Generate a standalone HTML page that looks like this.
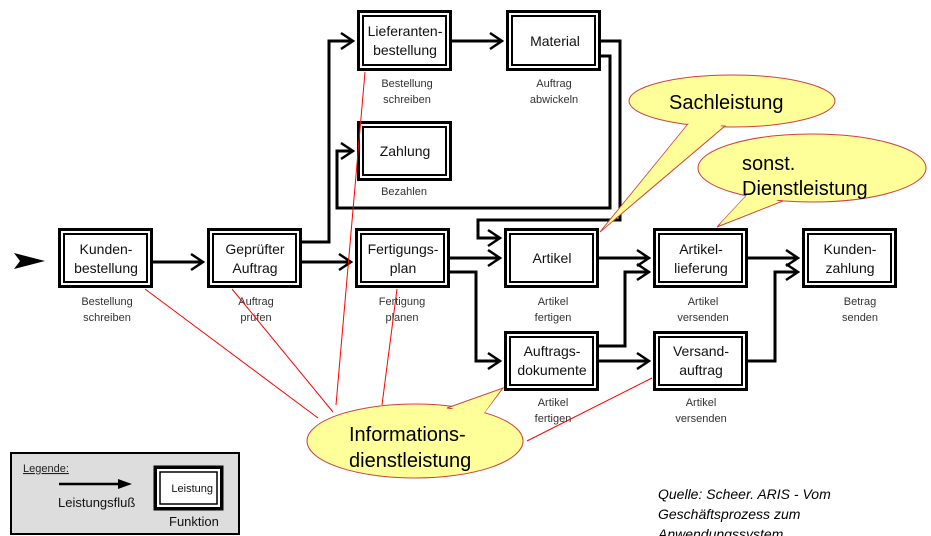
<!DOCTYPE html>
<html><head><meta charset="utf-8"><style>
html,body{margin:0;padding:0;background:#fff;width:931px;height:536px;overflow:hidden}
svg{display:block;font-family:"Liberation Sans",Arial,sans-serif}
</style></head><body>
<svg width="931" height="536" viewBox="0 0 931 536" xmlns="http://www.w3.org/2000/svg">
<defs>
<marker id="a" viewBox="0 0 10 10" refX="9" refY="5" markerWidth="5" markerHeight="5" orient="auto" markerUnits="userSpaceOnUse">
</marker>
</defs>
<g id="boxes" fill="none" stroke="#000">
</g>
<!-- connectors -->
<g fill="none" stroke="#000" stroke-width="3">
<polyline points="153,262 203,262"/>
<polyline points="302,242 329,242 329,41 353,41"/>
<polyline points="302,262 351,262"/>
<polyline points="452,41 502,41"/>
<polyline points="601,41 620,41 620,220 478,220 478,238 500,238"/>
<polyline points="601,56 610,56 610,208 337,208 337,151 353,151"/>
<polyline points="450,258 500,258"/>
<polyline points="450,272 476,272 476,361 500,361"/>
<polyline points="599,258 649,258"/>
<polyline points="599,346 625,346 625,272 649,272"/>
<polyline points="599,361 649,361"/>
<polyline points="748,258 798,258"/>
<polyline points="748,361 775,361 775,272 798,272"/>
</g>
<g fill="none" stroke="#000" stroke-width="2.5">
<polyline points="191,254 203,262 191,270"/>
<polyline points="339,254 351,262 339,270"/>
<polyline points="341,33 353,41 341,49"/>
<polyline points="490,33 502,41 490,49"/>
<polyline points="341,143 353,151 341,159"/>
<polyline points="488,230 500,238 488,246"/>
<polyline points="488,250 500,258 488,266"/>
<polyline points="488,353 500,361 488,369"/>
<polyline points="637,250 649,258 637,266"/>
<polyline points="637,264 649,272 637,280"/>
<polyline points="637,353 649,361 637,369"/>
<polyline points="786,250 798,258 786,266"/>
<polyline points="786,264 798,272 786,280"/>
</g>
<polygon points="14,253 45,261 14,269 20,261" fill="#000"/>
<!-- function boxes -->
<g fill="#fff" stroke="#000">
<g transform="translate(58,228)"><rect x="1.5" y="1.5" width="92" height="57" stroke-width="3"/><rect x="6" y="6" width="83" height="48" stroke-width="2"/></g>
<g transform="translate(207,228)"><rect x="1.5" y="1.5" width="92" height="57" stroke-width="3"/><rect x="6" y="6" width="83" height="48" stroke-width="2"/></g>
<g transform="translate(355,228)"><rect x="1.5" y="1.5" width="92" height="57" stroke-width="3"/><rect x="6" y="6" width="83" height="48" stroke-width="2"/></g>
<g transform="translate(357,10)"><rect x="1.5" y="1.5" width="92" height="58" stroke-width="3"/><rect x="6" y="6" width="83" height="49" stroke-width="2"/></g>
<g transform="translate(506,10)"><rect x="1.5" y="1.5" width="92" height="58" stroke-width="3"/><rect x="6" y="6" width="83" height="49" stroke-width="2"/></g>
<g transform="translate(357,121)"><rect x="1.5" y="1.5" width="92" height="57" stroke-width="3"/><rect x="6" y="6" width="83" height="48" stroke-width="2"/></g>
<g transform="translate(504,228)"><rect x="1.5" y="1.5" width="92" height="57" stroke-width="3"/><rect x="6" y="6" width="83" height="48" stroke-width="2"/></g>
<g transform="translate(653,228)"><rect x="1.5" y="1.5" width="92" height="57" stroke-width="3"/><rect x="6" y="6" width="83" height="48" stroke-width="2"/></g>
<g transform="translate(802,228)"><rect x="1.5" y="1.5" width="92" height="57" stroke-width="3"/><rect x="6" y="6" width="83" height="48" stroke-width="2"/></g>
<g transform="translate(504,331)"><rect x="1.5" y="1.5" width="92" height="57" stroke-width="3"/><rect x="6" y="6" width="83" height="48" stroke-width="2"/></g>
<g transform="translate(653,331)"><rect x="1.5" y="1.5" width="92" height="57" stroke-width="3"/><rect x="6" y="6" width="83" height="48" stroke-width="2"/></g>
</g>
<g font-size="14" text-anchor="middle" fill="#111">
<text x="106" y="254">Kunden-</text><text x="106" y="273">bestellung</text>
<text x="255" y="254">Geprüfter</text><text x="255" y="273">Auftrag</text>
<text x="403" y="254">Fertigungs-</text><text x="403" y="273">plan</text>
<text x="405" y="36">Lieferanten-</text><text x="405" y="55">bestellung</text>
<text x="555" y="46">Material</text>
<text x="405" y="156">Zahlung</text>
<text x="552" y="263">Artikel</text>
<text x="701" y="254">Artikel-</text><text x="701" y="273">lieferung</text>
<text x="850" y="254">Kunden-</text><text x="850" y="273">zahlung</text>
<text x="552" y="356">Auftrags-</text><text x="552" y="375">dokumente</text>
<text x="701" y="356">Versand-</text><text x="701" y="375">auftrag</text>
</g>
<g font-size="11" text-anchor="middle" fill="#333">
<text x="107" y="305">Bestellung</text><text x="107" y="321">schreiben</text>
<text x="256" y="305">Auftrag</text><text x="256" y="321">prüfen</text>
<text x="402" y="305">Fertigung</text><text x="402" y="321">planen</text>
<text x="407" y="87">Bestellung</text><text x="407" y="103">schreiben</text>
<text x="554" y="87">Auftrag</text><text x="554" y="103">abwickeln</text>
<text x="404" y="195">Bezahlen</text>
<text x="553" y="305">Artikel</text><text x="553" y="321">fertigen</text>
<text x="703" y="305">Artikel</text><text x="703" y="321">versenden</text>
<text x="860" y="305">Betrag</text><text x="860" y="321">senden</text>
<text x="553" y="406">Artikel</text><text x="553" y="422">fertigen</text>
<text x="701" y="406">Artikel</text><text x="701" y="422">versenden</text>
</g>
<!-- red lines -->
<g stroke="#f00" stroke-width="1" fill="none">
<line x1="145" y1="289" x2="318" y2="418"/>
<line x1="232" y1="289" x2="333" y2="412"/>
<line x1="365" y1="72" x2="336" y2="405"/>
<line x1="397" y1="289" x2="382" y2="405"/>
<line x1="527" y1="441" x2="652" y2="378"/>
</g>
<!-- callouts -->
<g fill="#ffff99" stroke="#d04040" stroke-width="1">
<ellipse cx="732" cy="101" rx="103" ry="26"/>
<polygon points="688,124 600,232 725,126"/>
<ellipse cx="812" cy="168" rx="114" ry="34"/>
<polygon points="746,196 717,227 783,201"/>
<ellipse cx="415" cy="441" rx="108" ry="37"/>
<polygon points="447,408 503,388 484,413"/>
</g>
<g fill="#ffff99" stroke="none">
<polygon points="690,122 603,229 723,124"/>
<polygon points="748,194 720,224 780,199"/>
<polygon points="449,410 500,391 482,416"/>
</g>
<g font-size="20" fill="#000">
<text x="669" y="109">Sachleistung</text>
<text x="742" y="170">sonst.</text>
<text x="742" y="195">Dienstleistung</text>
<text x="349" y="441">Informations-</text>
<text x="349" y="467">dienstleistung</text>
</g>
<!-- legend -->
<rect x="11" y="453" width="228" height="81" fill="#ddd" stroke="#000" stroke-width="2"/>
<text x="23" y="472" font-size="11" text-decoration="underline" fill="#222">Legende:</text>
<line x1="59" y1="484" x2="122" y2="484" stroke="#000" stroke-width="2.5"/>
<polygon points="118,479 132,484 118,489" fill="#000"/>
<text x="58" y="507" font-size="13" fill="#111">Leistungsfluß</text>
<rect x="153.5" y="465.5" width="70" height="45" fill="#000"/>
<rect x="157" y="469" width="63" height="38" fill="#fff"/>
<rect x="160" y="472" width="57" height="32" fill="#fff" stroke="#000" stroke-width="1.5"/>
<text x="213" y="492" font-size="11" text-anchor="end" fill="#111">Leistung</text>
<text x="169" y="526" font-size="13" fill="#111">Funktion</text>
<g font-size="14" font-style="italic" fill="#000">
<text x="658" y="499">Quelle: Scheer. ARIS - Vom</text>
<text x="658" y="519">Geschäftsprozess zum</text>
<text x="658" y="539">Anwendungssystem</text>
</g>
</svg>
</body></html>
